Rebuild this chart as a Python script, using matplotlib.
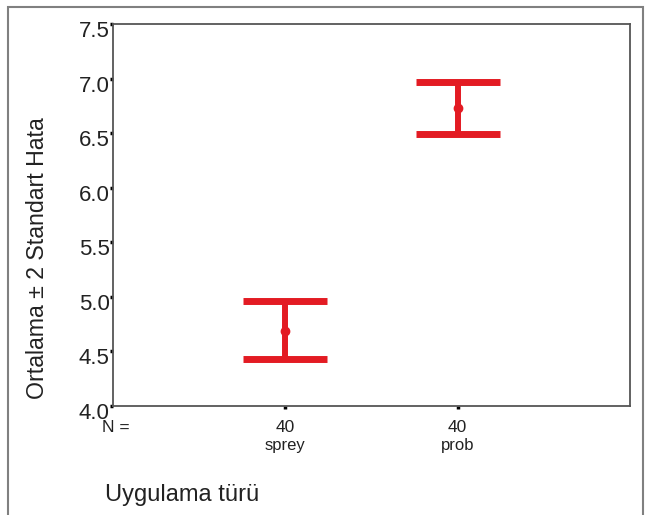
import matplotlib.pyplot as plt
from matplotlib.patches import Rectangle
from matplotlib.transforms import ScaledTranslation

# veriler
kategoriler = ['sprey', 'prob']
n_degerleri = [40, 40]
ortalamalar = [4.69, 6.73]
alt_sinir = [4.43, 6.49]
ust_sinir = [4.96, 6.97]
y_ticks = [4.0, 4.5, 5.0, 5.5, 6.0, 6.5, 7.0, 7.5]

plt.rcParams['font.family'] = ['Liberation Sans', 'DejaVu Sans']

fig = plt.figure(figsize=(6.45, 5.15), dpi=100)
ax = fig.add_axes([113 / 645, 1 - 406 / 515, 517 / 645, 382 / 515])

kirmizi = '#e31b23'
x = [1, 2]
hata_alt = [m - a for m, a in zip(ortalamalar, alt_sinir)]
hata_ust = [u - m for m, u in zip(ortalamalar, ust_sinir)]

# hata çubukları
ax.errorbar(x, ortalamalar, yerr=[hata_alt, hata_ust], fmt='none',
            ecolor=kirmizi, elinewidth=4.3, capsize=30.5, capthick=5)
ax.plot(x, ortalamalar, 'o', color=kirmizi, markersize=6)

ax.set_xlim(0, 3)
ax.set_ylim(4.0, 7.5)
ax.set_yticks(y_ticks, labels=[f'{v:.1f}' for v in y_ticks])
ax.set_xticks(x, labels=kategoriler)

ax.tick_params(axis='y', direction='out', length=2, width=2.5, pad=0.5,
               labelsize=16, colors='black', labelcolor='#222222')
ax.tick_params(axis='x', direction='out', length=2, width=2.5, pad=21,
               labelsize=12, labelcolor='#222222')

# etiketleri biraz aşağı kaydır
kaydir = ScaledTranslation(0, -5 / 100, fig.dpi_scale_trans)
for lbl in ax.get_yticklabels():
    lbl.set_transform(lbl.get_transform() + kaydir)

for sp in ax.spines.values():
    sp.set_color('#555555')
    sp.set_linewidth(1.3)

# N değerleri
for xi, n in zip(x, n_degerleri):
    ax.annotate(str(n), xy=(xi, 0), xycoords=ax.get_xaxis_transform(),
                xytext=(0, -15.5), textcoords='offset points',
                ha='center', va='center', fontsize=12.5, color='#222222')
fig.text(102 / 645, 1 - 428 / 515, 'N =', ha='left', va='center',
         fontsize=12.5, color='#222222')

fig.text(105 / 645, 1 - 495 / 515, 'Uygulama türü', ha='left', va='center',
         fontsize=17, color='#222222')
fig.text(38 / 645, 1 - 258 / 515, 'Ortalama ± 2 Standart Hata', rotation=90,
         ha='center', va='center', fontsize=16.7, color='#222222')

# dış çerçeve
fig.add_artist(Rectangle((8 / 645, -0.1), 635 / 645, 1.1 - 7 / 515,
                         transform=fig.transFigure, fill=False,
                         edgecolor='#808080', linewidth=1.5, clip_on=False))

fig.savefig('out.png', dpi=100)
